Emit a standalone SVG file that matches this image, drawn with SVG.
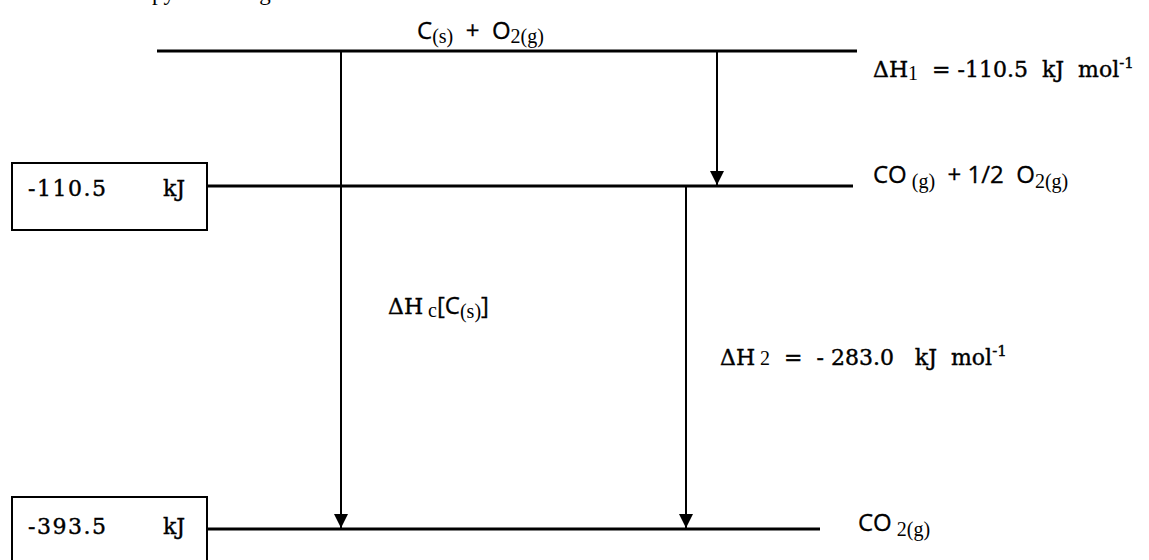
<svg xmlns="http://www.w3.org/2000/svg" width="1149" height="560" viewBox="0 0 1149 560">
  <style>
    .lvl { stroke: #000; stroke-width: 3; fill: none; }
    .arr { stroke: #000; stroke-width: 2; fill: none; }
    .box { stroke: #000; stroke-width: 2; fill: #fff; }
    .sans { font-family: "Open Sans", "Liberation Sans", sans-serif; font-size: 24px; fill: #000; stroke: #000; stroke-width: 0.3; }
    .serif { font-family: "DejaVu Serif", "Liberation Serif", serif; font-size: 22px; fill: #000; stroke: #000; stroke-width: 0.4; }
    .sub { font-family: "Liberation Serif", serif; font-size: 20px; stroke-width: 0; }
    .sup { font-size: 15px; }
  </style>
  <defs>
    <marker id="tip" viewBox="0 0 14 14" refX="14" refY="7" markerWidth="14" markerHeight="14" markerUnits="userSpaceOnUse" orient="auto">
      <path d="M0,0 L14,7 L0,14 z" fill="#000"/>
    </marker>
  </defs>
  <rect width="1149" height="560" fill="#fff"/>

  <!-- heading line, mostly above the top edge -->
  <text x="92" y="0" font-family="Liberation Serif, serif" font-size="23">Enthalpy level diagram</text>

  <!-- energy levels -->
  <g id="level-reactants">
    <line class="lvl" x1="157" y1="51" x2="857" y2="51"/>
    <text x="417" y="39" class="sans" xml:space="preserve">C<tspan class="sub" dy="4">(s)</tspan><tspan dy="-4">  +  O</tspan><tspan class="sub" dy="4">2(g)</tspan></text>
  </g>

  <g id="level-intermediate">
    <line class="lvl" x1="207" y1="186" x2="853" y2="186"/>
    <text x="873" y="183" class="sans" xml:space="preserve">CO<tspan class="sub" dy="5"> (g)</tspan><tspan dy="-5">  + 1/2  O</tspan><tspan class="sub" dy="5">2(g)</tspan></text>
  </g>

  <g id="level-product">
    <line class="lvl" x1="207" y1="529" x2="820" y2="529"/>
    <text x="858" y="531" class="sans" xml:space="preserve">CO<tspan class="sub" dy="5"> 2(g)</tspan></text>
  </g>

  <!-- value boxes -->
  <g id="box-intermediate">
    <rect class="box" x="12" y="163" width="195" height="67"/>
    <text x="28" y="196" class="serif" letter-spacing="1.5">-110.5</text>
    <text x="163" y="196" class="serif">kJ</text>
  </g>

  <g id="box-product">
    <rect class="box" x="12" y="497" width="195" height="70"/>
    <text x="28" y="534" class="serif" letter-spacing="1.5">-393.5</text>
    <text x="163" y="534" class="serif">kJ</text>
  </g>

  <!-- enthalpy change labels -->
  <g id="label-dh1">
    <text x="873" y="77" class="serif" xml:space="preserve">ΔH<tspan class="sub" dy="3">1</tspan><tspan dy="-3">  = -110.5  kJ  mol</tspan><tspan class="sup" dy="-9">-1</tspan></text>
  </g>
  <g id="label-dhc">
    <text x="388" y="314" class="serif" xml:space="preserve">ΔH<tspan class="sub" dy="3"> c</tspan><tspan dy="-3" class="sans">[C</tspan><tspan class="sub" dy="4">(s)</tspan><tspan dy="-4" class="sans">]</tspan></text>
  </g>
  <g id="label-dh2">
    <text x="720" y="365" class="serif" xml:space="preserve">ΔH<tspan class="sub"> 2</tspan>  =  - 283.0   kJ  mol<tspan class="sup" dy="-9">-1</tspan></text>
  </g>

  <!-- arrows between levels -->
  <g id="connectors">
    <line class="arr" x1="341" y1="52" x2="341" y2="528" marker-end="url(#tip)"/>
    <line class="arr" x1="717" y1="52" x2="717" y2="185" marker-end="url(#tip)"/>
    <line class="arr" x1="686" y1="187" x2="686" y2="528" marker-end="url(#tip)"/>
  </g>
</svg>
